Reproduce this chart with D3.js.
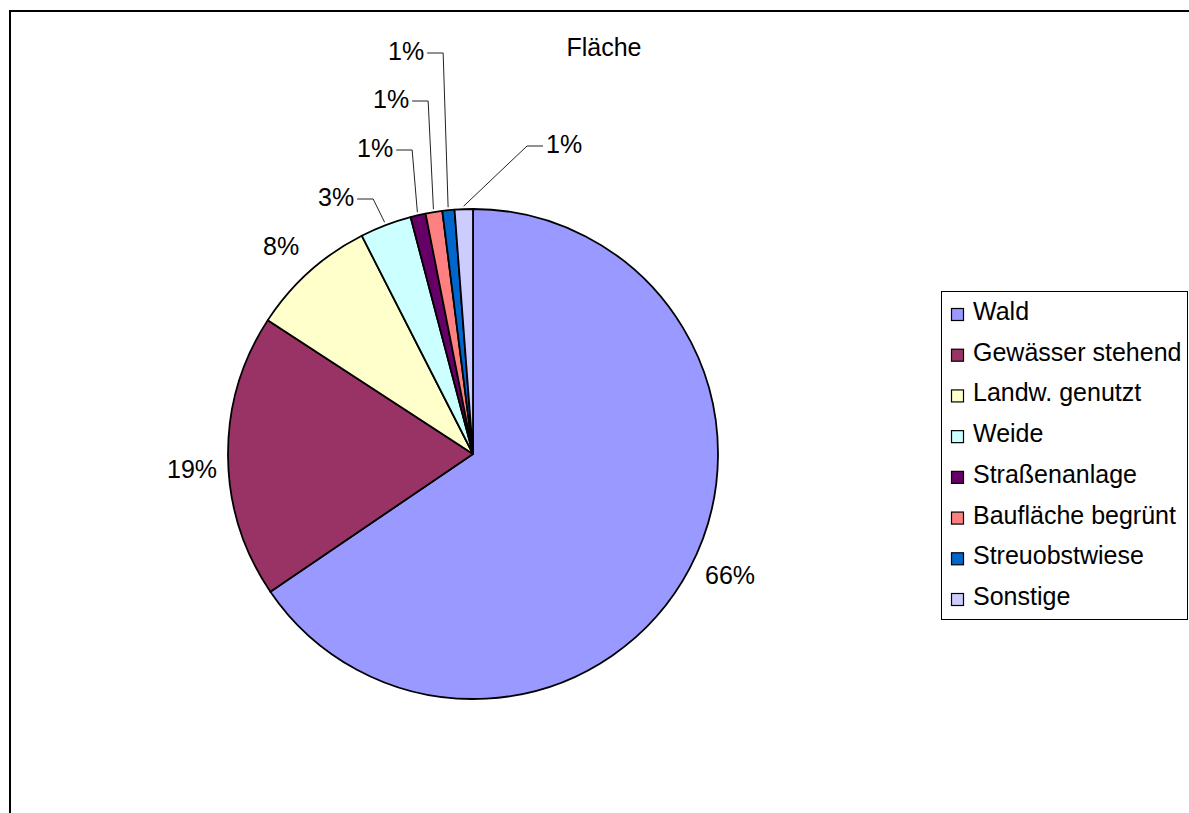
<!DOCTYPE html>
<html>
<head>
<meta charset="utf-8">
<script src="https://cdn.jsdelivr.net/npm/d3@7"></script>
<style>
  body { margin: 0; background: #fff; }
  text { font-family: "Liberation Sans", Arial, sans-serif; fill: #000; }
</style>
</head>
<body>
<div class="chart"></div>
<script>
// chart data (share of area, percent)
const categories = ["Wald", "Gewässer stehend", "Landw. genutzt", "Weide", "Straßenanlage", "Baufläche begrünt", "Streuobstwiese", "Sonstige"];
const values = [65.5, 18.7, 8.3, 3.4, 1.0, 1.1, 0.8, 1.2];
const colors = ["#9999FF", "#993366", "#FFFFCC", "#CCFFFF", "#660066", "#FF8080", "#0066CC", "#CCCCFF"];
const title = "Fläche";

const WIDTH = 1189;
const HEIGHT = 813;
const CX = 473, CY = 454, R = 245;
const FONT = 25;

// label spots as in the original chart: [x of text start, baseline, leader side]
const labelSpots = [
  [705, 584, null], [167, 478, null], [263, 255, null],
  [318, 206, "right"], [357, 157, "right"], [373, 108, "right"], [388, 60, "right"], [546, 153, "left"]];

const svg = d3.select(".chart")
    .append("svg")
    .attr("width", WIDTH)
    .attr("height", HEIGHT);

// outer frame, cut off on the right and bottom
svg.append("rect")
    .attr("x", 10).attr("y", 11)
    .attr("width", WIDTH + 20).attr("height", HEIGHT + 20)
    .attr("fill", "none").attr("stroke", "#000").attr("stroke-width", 2);

svg.append("text")
    .attr("x", 604).attr("y", 56)
    .attr("text-anchor", "middle")
    .style("font-size", FONT + "px")
    .text(title);

const pie = d3.pie().sort(null).value(d => d);
const arcs = pie(values);
const arc = d3.arc().innerRadius(0).outerRadius(R);
const total = d3.sum(values);

const g = svg.append("g").attr("transform", `translate(${CX},${CY})`);

g.selectAll("path")
    .data(arcs)
    .join("path")
    .attr("d", arc)
    .attr("fill", (d, i) => colors[i])
    .attr("stroke", "#000")
    .attr("stroke-width", 1.8)
    .attr("stroke-linejoin", "round");

// point on a circle of radius r at the slice's middle angle
function edgePoint(d, r) {
    const a = (d.startAngle + d.endAngle) / 2;
    return [CX + r * Math.sin(a), CY - r * Math.cos(a)];
}

const labels = svg.append("g");
arcs.forEach((d, i) => {
    const txt = Math.round(d.value / total * 100) + "%";
    const spot = labelSpots[i];
    const t = labels.append("text")
        .attr("x", spot[0]).attr("y", spot[1])
        .style("font-size", FONT + "px")
        .text(txt);
    if (!spot[2]) return;
    const bb = t.node().getBBox();
    const ly = spot[1] - 7;
    const p = edgePoint(d, R + 3);
    let x0, x1;
    if (spot[2] == "right") {
        x0 = bb.x + bb.width + 3;
        x1 = x0 + 16;
    } else {
        x0 = bb.x - 3;
        x1 = x0 - 16;
    }
    labels.append("polyline")
        .attr("points", [[x0, ly], [x1, ly], p].map(q => q.join(",")).join(" "))
        .attr("fill", "none")
        .attr("stroke", "#222")
        .attr("stroke-width", 1);
});

// legend
const legend = svg.append("g");
legend.append("rect")
    .attr("x", 941.5).attr("y", 291.5)
    .attr("width", 246).attr("height", 328)
    .attr("fill", "#fff").attr("stroke", "#000").attr("stroke-width", 1);

const rowY = d3.scalePoint().domain(categories).range([314, 599]);

const items = legend.selectAll("g.item")
    .data(categories)
    .join("g")
    .attr("class", "item")
    .attr("transform", d => `translate(0,${rowY(d)})`);

items.append("rect")
    .attr("x", 951.5).attr("y", -5.5)
    .attr("width", 12).attr("height", 12)
    .attr("fill", (d, i) => colors[i])
    .attr("stroke", "#000").attr("stroke-width", 1.2);

items.append("text")
    .attr("x", 973).attr("y", 6)
    .style("font-size", FONT + "px")
    .text(d => d);
</script>
</body>
</html>
